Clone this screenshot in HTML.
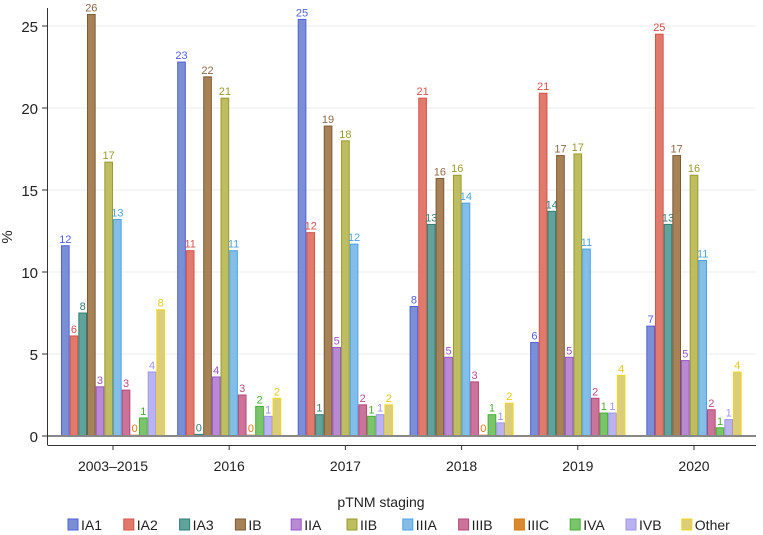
<!DOCTYPE html>
<html><head><meta charset="utf-8"><style>
body{margin:0;background:#fff;}
svg{display:block;font-family:"Liberation Sans",Arial,sans-serif;}
</style></head><body>
<svg id="chart" width="763" height="535"></svg>
<script>
const categories = ["2003–2015","2016","2017","2018","2019","2020"];
const series = ["IA1","IA2","IA3","IB","IIA","IIB","IIIA","IIIB","IIIC","IVA","IVB","Other"];
const vIA1  = [11.6, 22.8, 25.4, 7.9, 5.7, 6.7];
const vIA2  = [6.1, 11.3, 12.4, 20.6, 20.9, 24.5];
const vIA3  = [7.5, 0.1, 1.3, 12.9, 13.7, 12.9];
const vIB   = [25.7, 21.9, 18.9, 15.7, 17.1, 17.1];
const vIIA  = [3.0, 3.6, 5.4, 4.8, 4.8, 4.6];
const vIIB  = [16.7, 20.6, 18.0, 15.9, 17.2, 15.9];
const vIIIA = [13.2, 11.3, 11.7, 14.2, 11.4, 10.7];
const vIIIB = [2.8, 2.5, 1.9, 3.3, 2.3, 1.6];
const vIIIC = [0.05, 0.05, null, 0.05, null, null];
const vIVA  = [1.1, 1.8, 1.2, 1.3, 1.4, 0.5];
const vIVB  = [3.9, 1.2, 1.3, 0.8, 1.4, 1.0];
const vOther= [7.7, 2.3, 1.9, 2.0, 3.7, 3.9];
const yTicks = [0,5,10,15,20,25];

const values = [vIA1,vIA2,vIA3,vIB,vIIA,vIIB,vIIIA,vIIIB,vIIIC,vIVA,vIVB,vOther];
const fills = ["#7b8fd4","#e07b6c","#5fa39b","#a88257","#b88ad3","#bebd60","#84bde6","#cc7399","#d98a30","#7cc46c","#bab3f0","#dccd78"];
const strokes = ["#4f5fe0","#d9504a","#2e7f76","#7c5a34","#9a55d0","#9c9a2c","#4aa3ea","#b8467a","#d97a10","#45b030","#9e94f0","#f0d820"];
const labelCols = ["#4f5fe0","#d9504a","#2e7f76","#8c6a44","#9a55d0","#9c9a2c","#4aa3ea","#c04c80","#d97a10","#45b030","#9e94f0","#e8c810"];

const svg = document.getElementById('chart');
const NS = "http://www.w3.org/2000/svg";
function mk(tag, attrs, parent){const e=document.createElementNS(NS,tag);for(const k in attrs)e.setAttribute(k,attrs[k]);(parent||svg).appendChild(e);return e;}
const y0 = 436, pxPerUnit = 16.4;
function yScale(v){return y0 - v*pxPerUnit;}
function xCenter(i){return 113 + i*116.2;}
const barW = 8.67;

yTicks.forEach(t=>{
  const y=yScale(t);
  if(t>0){const g=mk('line',{x1:48,x2:756,y1:y,y2:y,stroke:'#ececec','stroke-width':1});
  
  }
  const tk=mk('line',{x1:42,x2:47,y1:y,y2:y,stroke:'#333','stroke-width':1});
  
  
  const tx=mk('text',{x:38,y:y+6,'text-anchor':'end','font-size':15,fill:'#222'});
  tx.textContent=t;
  
  
});
const ya=mk('line',{x1:47.5,x2:47.5,y1:8,y2:445,stroke:'#333','stroke-width':1});


const yt=mk('text',{x:12,y:237,'text-anchor':'middle','font-size':15,fill:'#222',transform:'rotate(-90 12 237)'});
yt.textContent='%';



categories.forEach((c,ci)=>{
  const present = series.map((s,si)=>si).filter(si=>values[si][ci]!==null);
  const gw = present.length*barW;
  const x0 = xCenter(ci)-gw/2;
  present.forEach((si,k)=>{
    const v = values[si][ci];
    const x = x0 + k*barW;
    const y = yScale(v);
    const r=mk('rect',{x:x+0.5,y:y,width:barW-1,height:Math.max(y0-y,1),fill:fills[si],stroke:strokes[si],'stroke-width':1});
    
    
    const t=mk('text',{x:x+barW/2,y:y-3,'text-anchor':'middle','font-size':11,fill:labelCols[si]});
    t.textContent=Math.round(v);
    
    
  });
  const tk=mk('line',{x1:xCenter(ci),x2:xCenter(ci),y1:445,y2:450,stroke:'#333'});
  
  
  const tl=mk('text',{x:xCenter(ci),y:471,'text-anchor':'middle','font-size':14,fill:'#222'});
  tl.textContent=c;
  
  
});
const zl=mk('line',{x1:48,x2:756,y1:436,y2:436,stroke:'#888','stroke-width':2});


const xa=mk('line',{x1:47.5,x2:756,y1:445.5,y2:445.5,stroke:'#333','stroke-width':1});



const lt=mk('text',{x:381,y:507,'text-anchor':'middle','font-size':14,fill:'#222'});
lt.textContent='pTNM staging';


series.forEach((s,si)=>{
  const lx = 68 + si*55.8;
  const r=mk('rect',{x:lx,y:519,width:10,height:11,fill:fills[si],stroke:strokes[si],'stroke-width':1});
  
  
  const t=mk('text',{x:lx+13,y:530,'font-size':14,fill:'#222'});
  t.textContent=s;
  
  
});
</script>
</body></html>
